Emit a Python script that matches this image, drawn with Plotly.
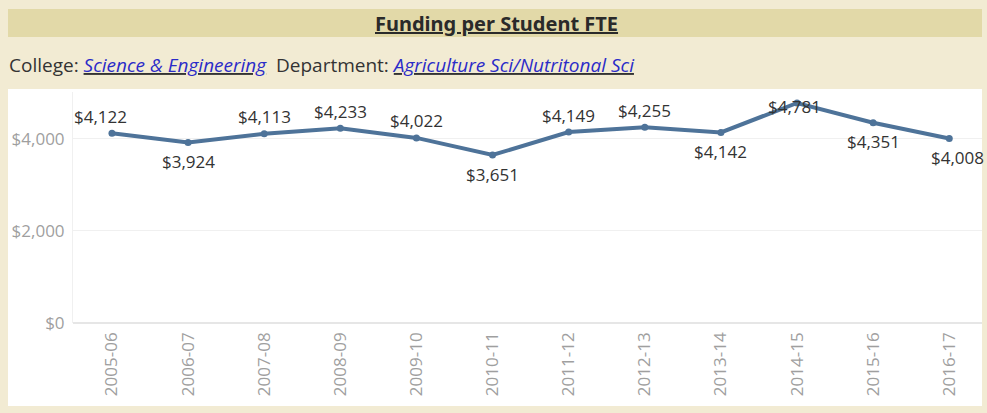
import plotly.graph_objects as go

years = ["2005-06", "2006-07", "2007-08", "2008-09", "2009-10", "2010-11",
         "2011-12", "2012-13", "2013-14", "2014-15", "2015-16", "2016-17"]
funding = [4122, 3924, 4113, 4233, 4022, 3651, 4149, 4255, 4142, 4781, 4351, 4008]
label_side = ["above", "below", "above", "above", "above", "below",
              "above", "above", "below", "on", "below", "below"]
ytick_vals = [0, 2000, 4000]
ytick_text = ["$0", "$2,000", "$4,000"]

W, H = 987, 413
L, R, T, B = 73, 5, 92, 90
PW, PH = W - L - R, H - T - B


def px(x):
    return (x - L) / PW


def py(y):
    return (H - B - y) / PH


LINE_COLOR = "#4e7399"
SIDE_SHIFT = {"above": 17, "below": -19, "on": -3}

fig = go.Figure()
fig.add_trace(go.Scatter(
    x=years, y=funding, mode="lines+markers",
    line=dict(color=LINE_COLOR, width=4),
    marker=dict(color=LINE_COLOR, size=7),
    cliponaxis=False, hoverinfo="skip",
))

annotations = []
for i, (yr, v, side) in enumerate(zip(years, funding, label_side)):
    xs = 0
    if i == 0:
        xs = -11
    elif i == len(years) - 1:
        xs = 8
    elif side == "on":
        xs = -3
    annotations.append(dict(
        x=yr, y=v, xref="x", yref="y", text=f"${v:,}", showarrow=False,
        xanchor="center", yanchor="middle", yshift=SIDE_SHIFT[side], xshift=xs,
        font=dict(family="Open Sans", size=17, color="#333333"),
    ))

annotations += [
    dict(text="<b><u>Funding per Student FTE</u></b>", xref="paper", yref="paper",
         x=px(496), y=py(23), xanchor="center", yanchor="middle",
         showarrow=False, font=dict(family="Noto Sans", size=20, color="#2a2a2a")),
    dict(text="College: <i><u><span style='color:#2b2bc8'>Science &amp; Engineering</span></u></i>"
              "  Department: <i><u><span style='color:#2b2bc8'>Agriculture Sci/Nutritonal Sci</span></u></i>",
         xref="paper", yref="paper", x=px(7), y=py(65),
         xanchor="left", yanchor="middle", showarrow=False,
         font=dict(family="Open Sans", size=19, color="#333333")),
]

fig.update_layout(
    width=W, height=H,
    paper_bgcolor="#f2ebd3", plot_bgcolor="white",
    margin=dict(l=L, r=R, t=T, b=B),
    showlegend=False,
    xaxis=dict(type="category", range=[-0.512, 11.43], tickangle=-90,
               tickfont=dict(family="Open Sans", size=17, color="#9f9f9f"),
               showgrid=False, zeroline=False, showline=False, ticks="",
               ticklabelstandoff=5),
    yaxis=dict(range=[0, 5020], tickvals=ytick_vals, ticktext=ytick_text,
               tickfont=dict(family="Open Sans", size=17, color="#9f9f9f"),
               gridcolor="#f0f0f0", zeroline=True, zerolinecolor="#e6e6e6",
               showline=True, linecolor="#f0f0f0", ticks="",
               ticklabelstandoff=4),
    shapes=[
        dict(type="rect", xref="paper", yref="paper", layer="below",
             x0=px(8), x1=px(982), y0=py(406), y1=py(89),
             fillcolor="white", line=dict(width=0)),
        dict(type="rect", xref="paper", yref="paper", layer="below",
             x0=px(8), x1=px(982), y0=py(37), y1=py(9),
             fillcolor="#e2d9a8", line=dict(width=0)),
    ],
    annotations=annotations,
)

fig.write_html("out.html", config={"displayModeBar": False},
               post_script="document.body.style.margin='0';document.body.style.background='#f2ebd3';")
